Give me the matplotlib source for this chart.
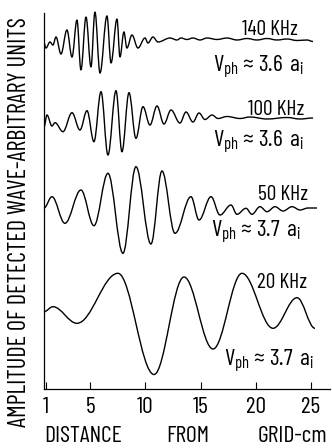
import numpy as np
import matplotlib
matplotlib.use("Agg")
import matplotlib.pyplot as plt
from matplotlib.path import Path
from matplotlib.patches import PathPatch

plt.rcParams['font.family'] = ['Barlow Condensed', 'DejaVu Sans']

# extrema of each detected wave, distance in cm, amplitude in arbitrary units
x140 = [0.80, 0.98, 1.34, 1.61, 1.89, 2.34, 2.88, 3.34, 3.79, 4.15, 4.61, 5.06, 5.42, 5.88,
        6.51, 6.88, 7.42, 7.69, 8.05, 8.32, 8.78, 9.32, 9.96, 10.23, 10.68, 11.14, 12.23,
        12.86, 13.22, 13.77, 14.31, 14.95, 15.58, 16.49, 17.40, 18.30, 19.21, 20.12, 21.03,
        21.93, 22.84, 23.75, 24.65, 25.20]
y140 = [34.6, 34.1, 34.7, 34.4, 35.2, 33.5, 35.9, 33.2, 36.9, 31.9, 37.2, 32.2, 37.7, 31.6,
        37.3, 32.6, 37.0, 33.2, 35.7, 34.1, 35.4, 34.1, 35.1, 34.6, 35.2, 34.7, 35.1,
        34.9, 35.1, 34.95, 35.1, 34.9, 35.1, 34.95, 35.1, 34.9, 35.05, 34.9, 35.05,
        34.9, 35.0, 34.85, 34.9, 34.75]

x100 = [0.80, 1.07, 1.52, 1.80, 2.52, 3.34, 4.06, 4.70, 5.33, 5.97, 6.60, 7.33, 7.87, 8.51,
        9.14, 9.78, 10.41, 11.05, 11.68, 12.32, 13.13, 13.68, 14.31, 14.86, 15.40, 16.04,
        16.58, 17.40, 18.58, 19.48, 21.03, 22.84, 24.02, 25.20]
y100 = [26.2, 27.4, 26.3, 26.63, 25.73, 27.63, 25.9, 27.83, 24.73, 29.73, 23.4, 29.83, 23.73,
        29.63, 25.07, 28.23, 26.4, 28.3, 26.5, 27.9, 26.6, 27.7, 26.7, 27.6, 26.95, 27.4,
        27.05, 27.25, 27.05, 27.2, 27.0, 27.15, 27.0, 27.1]

x50 = [0.80, 1.52, 2.70, 4.15, 5.33, 6.60, 7.96, 9.14, 10.50, 11.50, 12.68, 14.13, 14.86,
       15.95, 16.76, 17.76, 18.30, 19.12, 19.66, 20.39, 21.03, 21.75, 22.48, 23.30, 24.02,
       24.74, 25.56]
y50 = [18.1, 19.23, 16.57, 19.9, 16.33, 21.57, 13.57, 22.23, 14.5, 21.8, 15.57, 19.23, 16.9,
       19.23, 17.4, 18.4, 17.47, 18.07, 17.47, 18.23, 17.73, 18.23, 17.8, 18.23, 17.9,
       18.1, 18.1]

x20 = [0.80, 1.61, 3.79, 7.51, 10.78, 13.50, 16.13, 18.76, 21.57, 23.75, 25.38]
y20 = [7.73, 8.23, 6.57, 11.57, 1.45, 11.2, 4.0, 11.57, 6.07, 9.13, 6.07]

freq_labels = ['140 KHz', '100 KHz', '50 KHz', '20 KHz']
vph_labels = [r'$\mathregular{V_{ph} \approx 3.6\ a_i}$', r'$\mathregular{V_{ph} \approx 3.6\ a_i}$',
              r'$\mathregular{V_{ph} \approx 3.7\ a_i}$', r'$\mathregular{V_{ph} \approx 3.7\ a_i}$']
xticks = [1, 5, 10, 15, 20, 25]


def wave_path(xs, ys):
    # smooth curve through the extrema, flat tangent at each one
    verts = [(xs[0], ys[0])]
    codes = [Path.MOVETO]
    k = 0.3634
    for i in range(len(xs) - 1):
        dx = xs[i + 1] - xs[i]
        verts += [(xs[i] + k * dx, ys[i]), (xs[i + 1] - k * dx, ys[i + 1]), (xs[i + 1], ys[i + 1])]
        codes += [Path.CURVE4] * 3
    return Path(verts, codes)


fig = plt.figure(figsize=(3.32, 4.48), dpi=100)
ax = fig.add_axes([44 / 332, 1 - 389 / 448, (330 - 44) / 332, (389 - 10) / 448])

for xs, ys in [(x140, y140), (x100, y100), (x50, y50), (x20, y20)]:
    ax.add_patch(PathPatch(wave_path(xs, ys), fill=False, lw=1.0, color='black'))

ax.set_xlim(0.8, 26.74)
ax.set_ylim(0, 37.9)
ax.spines['top'].set_visible(False)
ax.spines['right'].set_visible(False)
ax.spines['left'].set_bounds(0, 37.6)
ax.spines['left'].set_linewidth(0.9)
ax.spines['bottom'].set_linewidth(0.9)
ax.set_yticks([])
ax.set_xticks(xticks)
ax.set_xticklabels([str(t) for t in xticks])
ax.tick_params(axis='x', direction='in', length=5, width=0.8, pad=6, labelsize=17)

# frequency and phase velocity labels
fpos = [(21.3, 35.95), (21.9, 27.97), (22.5, 19.4), (22.43, 10.65)]
vpos = [(20.25, 31.8), (20.24, 24.3), (20.09, 15.23), (21.25, 2.33)]
for lab, (x, y) in zip(freq_labels, fpos):
    ax.text(x, y, lab, fontsize=15.5, ha='center', va='center')
for lab, (x, y) in zip(vph_labels, vpos):
    ax.text(x, y, lab, fontsize=17, ha='center', va='baseline')

fig.text(20 / 332, 1 - 222.5 / 448, 'AMPLITUDE OF DETECTED WAVE-ARBITRARY UNITS',
         rotation=90, ha='center', va='center', fontsize=17.5)
fig.text(83 / 332, 1 - 436 / 448, 'DISTANCE', ha='center', va='center', fontsize=17)
fig.text(187.5 / 332, 1 - 436 / 448, 'FROM', ha='center', va='center', fontsize=17)
fig.text(292.5 / 332, 1 - 436 / 448, 'GRID-cm', ha='center', va='center', fontsize=17)

fig.savefig('out.png', dpi=100)
